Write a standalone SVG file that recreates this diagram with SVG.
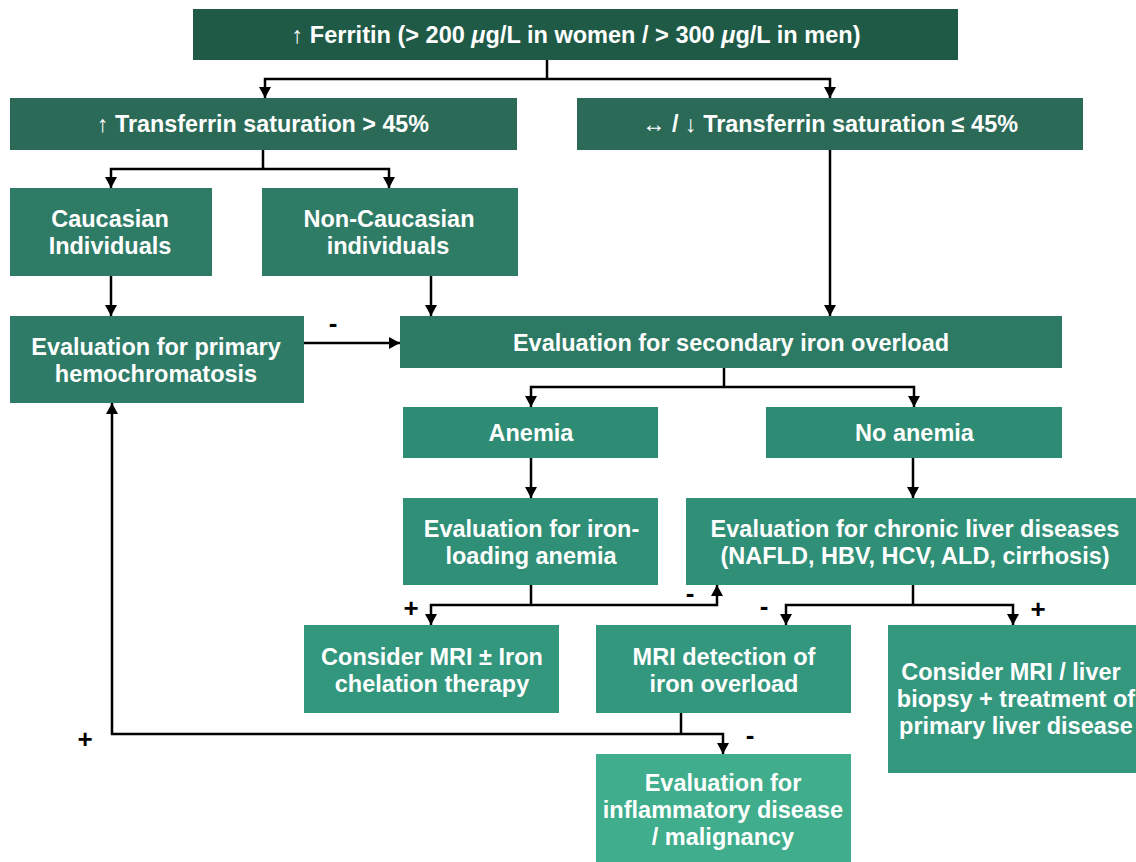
<svg xmlns="http://www.w3.org/2000/svg" width="1136" height="862" viewBox="0 0 1136 862">
<defs>
<marker id="ah" markerUnits="userSpaceOnUse" markerWidth="11" markerHeight="12" refX="11" refY="6" orient="auto" viewBox="0 0 11 12">
<path d="M0,0 L11,6 L0,12 z" fill="#000"/>
</marker>
<style>
.t{font-family:"Liberation Sans",Arial,sans-serif;font-weight:bold;font-size:23.5px;fill:#fff;text-anchor:middle}
.c{fill:none;stroke:#000;stroke-width:2.5}
.a{marker-end:url(#ah)}
.s{font-family:"Liberation Sans",Arial,sans-serif;font-weight:bold;font-size:26px;fill:#000;text-anchor:middle}
</style>
</defs>
<rect width="1136" height="862" fill="#fff"/>
<g id="connectors">
<path class="c" d="M547,60 V79"/>
<path class="c a" d="M547,79 H265 V98"/>
<path class="c a" d="M547,79 H830 V98"/>
<path class="c" d="M263,150 V169"/>
<path class="c a" d="M263,169 H111 V188"/>
<path class="c a" d="M263,169 H389 V188"/>
<path class="c a" d="M111,276 V316"/>
<path class="c a" d="M431,276 V316"/>
<path class="c a" d="M830,150 V316"/>
<path class="c a" d="M304,343 H400"/>
<path class="c" d="M724,368 V387"/>
<path class="c a" d="M724,387 H531 V407"/>
<path class="c a" d="M724,387 H914 V407"/>
<path class="c a" d="M531,458 V498"/>
<path class="c a" d="M913,458 V498"/>
<path class="c" d="M531,585 V605"/>
<path class="c a" d="M531,605 H431 V625"/>
<path class="c a" d="M531,605 H717 V585"/>
<path class="c" d="M913,585 V605"/>
<path class="c a" d="M913,605 H786 V625"/>
<path class="c a" d="M913,605 H1013 V625"/>
<path class="c" d="M681,713 V734"/>
<path class="c a" d="M681,734 H112 V403"/>
<path class="c a" d="M681,734 H723 V754"/>
<text class="s" x="333" y="332">-</text>
<text class="s" x="411" y="617">+</text>
<text class="s" x="690" y="602">-</text>
<text class="s" x="764" y="615">-</text>
<text class="s" x="1038" y="618">+</text>
<text class="s" x="85" y="748">+</text>
<text class="s" x="750" y="744">-</text>
</g>
<g id="ferritin">
<rect x="193" y="9" width="765" height="51" fill="#1f5a47"/>
<text class="t" x="576" y="42.5" font-size="22" textLength="569" lengthAdjust="spacingAndGlyphs">↑ Ferritin (&gt; 200 <tspan font-style="italic">μ</tspan>g/L in women / &gt; 300 <tspan font-style="italic">μ</tspan>g/L in men)</text>
</g>
<g id="tsat-high">
<rect x="10" y="98" width="507" height="52" fill="#2a6a57"/>
<text class="t" x="263" y="132" textLength="332" lengthAdjust="spacingAndGlyphs">↑ Transferrin saturation &gt; 45%</text>
</g>
<g id="tsat-low">
<rect x="577" y="98" width="506" height="52" fill="#2a6a57"/>
<text class="t" x="830" y="132" textLength="376" lengthAdjust="spacingAndGlyphs">↔ / ↓ Transferrin saturation ≤ 45%</text>
</g>
<g id="caucasian">
<rect x="10" y="188" width="202" height="88" fill="#2e7b66"/>
<text class="t" x="110" y="227">Caucasian</text>
<text class="t" x="110" y="254">Individuals</text>
</g>
<g id="non-caucasian">
<rect x="262" y="188" width="256" height="88" fill="#2e7b66"/>
<text class="t" x="389" y="227">Non-Caucasian</text>
<text class="t" x="388" y="254">individuals</text>
</g>
<g id="primary">
<rect x="10" y="316" width="294" height="87" fill="#2e7c67"/>
<text class="t" x="156" y="354.5">Evaluation for primary</text>
<text class="t" x="156" y="381.5">hemochromatosis</text>
</g>
<g id="secondary">
<rect x="400" y="316" width="662" height="52" fill="#2d7a64"/>
<text class="t" x="731" y="350.5">Evaluation for secondary iron overload</text>
</g>
<g id="anemia">
<rect x="403" y="407" width="255" height="51" fill="#2f8c74"/>
<text class="t" x="531" y="441">Anemia</text>
</g>
<g id="no-anemia">
<rect x="766" y="407" width="296" height="51" fill="#2f8c74"/>
<text class="t" x="914.5" y="441">No anemia</text>
</g>
<g id="iron-loading">
<rect x="403" y="498" width="255" height="87" fill="#2f8f77"/>
<text class="t" x="531.5" y="536.5">Evaluation for iron-</text>
<text class="t" x="531" y="563.5">loading anemia</text>
</g>
<g id="chronic-liver">
<rect x="686" y="498" width="450" height="87" fill="#2f8f77"/>
<text class="t" x="915" y="536.5">Evaluation for chronic liver diseases</text>
<text class="t" x="915" y="563.5">(NAFLD, HBV, HCV, ALD, cirrhosis)</text>
</g>
<g id="chelation">
<rect x="304" y="625" width="255" height="88" fill="#32977d"/>
<text class="t" x="432" y="665">Consider MRI ± Iron</text>
<text class="t" x="432" y="692">chelation therapy</text>
</g>
<g id="mri-detection">
<rect x="596" y="625" width="255" height="88" fill="#32977d"/>
<text class="t" x="724" y="665">MRI detection of</text>
<text class="t" x="724" y="692">iron overload</text>
</g>
<g id="liver-biopsy">
<rect x="888" y="625" width="248" height="148" fill="#34987f"/>
<text class="t" x="1011" y="680">Consider MRI / liver</text>
<text class="t" x="1016" y="707">biopsy + treatment of</text>
<text class="t" x="1016" y="734">primary liver disease</text>
</g>
<g id="inflammatory">
<rect x="596" y="754" width="255" height="108" fill="#40ae8c"/>
<text class="t" x="723" y="791">Evaluation for</text>
<text class="t" x="723" y="818">inflammatory disease</text>
<text class="t" x="723" y="845">/ malignancy</text>
</g>
</svg>
